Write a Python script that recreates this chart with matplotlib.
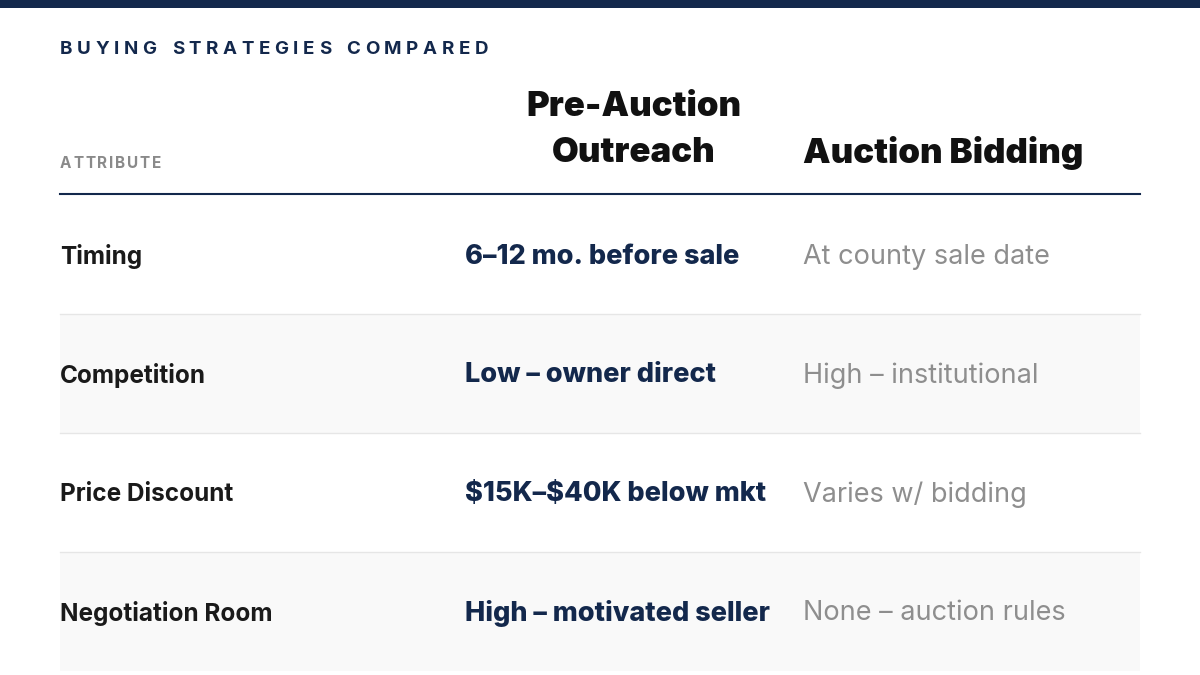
import matplotlib
matplotlib.use("Agg")
import matplotlib.pyplot as plt
from matplotlib.patches import Rectangle

title = "BUYING STRATEGIES COMPARED"
headers = ["ATTRIBUTE", "Pre-Auction", "Outreach", "Auction Bidding"]
attributes = ["Timing", "Competition", "Price Discount", "Negotiation Room"]
pre_auction = ["6–12 mo. before sale", "Low – owner direct", "$15K–$40K below mkt", "High – motivated seller"]
auction = ["At county sale date", "High – institutional", "Varies w/ bidding", "None – auction rules"]

NAVY = "#13284c"
plt.rcParams['font.family'] = ['Inter', 'DejaVu Sans']
plt.rcParams['text.parse_math'] = False
fig = plt.figure(figsize=(12, 6.75), dpi=100)
ax = fig.add_axes([0, 0, 1, 1])
ax.set_xlim(0, 1200); ax.set_ylim(675, 0); ax.axis("off")

ax.add_patch(Rectangle((0, 0), 1200, 8, color=NAVY, lw=0))

fig.canvas.draw()
r = fig.canvas.get_renderer()

def spaced(s, x, y, size, color, gap, spacew):
    for ch in s:
        t = ax.text(x, y, ch, fontsize=size, fontweight="bold", color=color, va="center", ha="left")
        w = t.get_window_extent(r).width if ch != " " else spacew
        x += w + gap

spaced(title, 60, 50, 13.5, NAVY, 4.6, 6)
spaced(headers[0], 60, 163, 11, "#8a8a8a", 1.8, 4)

ax.text(634, 107, headers[1], fontsize=25, fontweight="black", color="#111111", va="center", ha="center")
ax.text(634, 153, headers[2], fontsize=25, fontweight="black", color="#111111", va="center", ha="center")
ax.text(803, 153, headers[3], fontsize=25, fontweight="black", color="#111111", va="center")
ax.plot([60, 1140], [194, 194], color=NAVY, lw=1.5)

top, h = 195, 119
for i, (a, p, q) in enumerate(zip(attributes, pre_auction, auction)):
    y0 = top + i * h
    if i % 2 == 1:
        ax.add_patch(Rectangle((60, y0), 1080, h, color="#f9f9f9", lw=0))
    if i < len(attributes) - 1:
        ax.plot([60, 1140], [y0 + h, y0 + h], color="#e6e6e6", lw=1)
    yc = y0 + h / 2 + 2
    ax.text(60, yc, a, fontsize=17.5, fontweight="bold", color="#1a1a1a", va="center")
    ax.text(465, yc, p, fontsize=19.5, fontweight="heavy", color=NAVY, va="center")
    ax.text(803, yc, q, fontsize=19.5, color="#8e8e8e", va="center")

fig.savefig("out.png", dpi=100)
